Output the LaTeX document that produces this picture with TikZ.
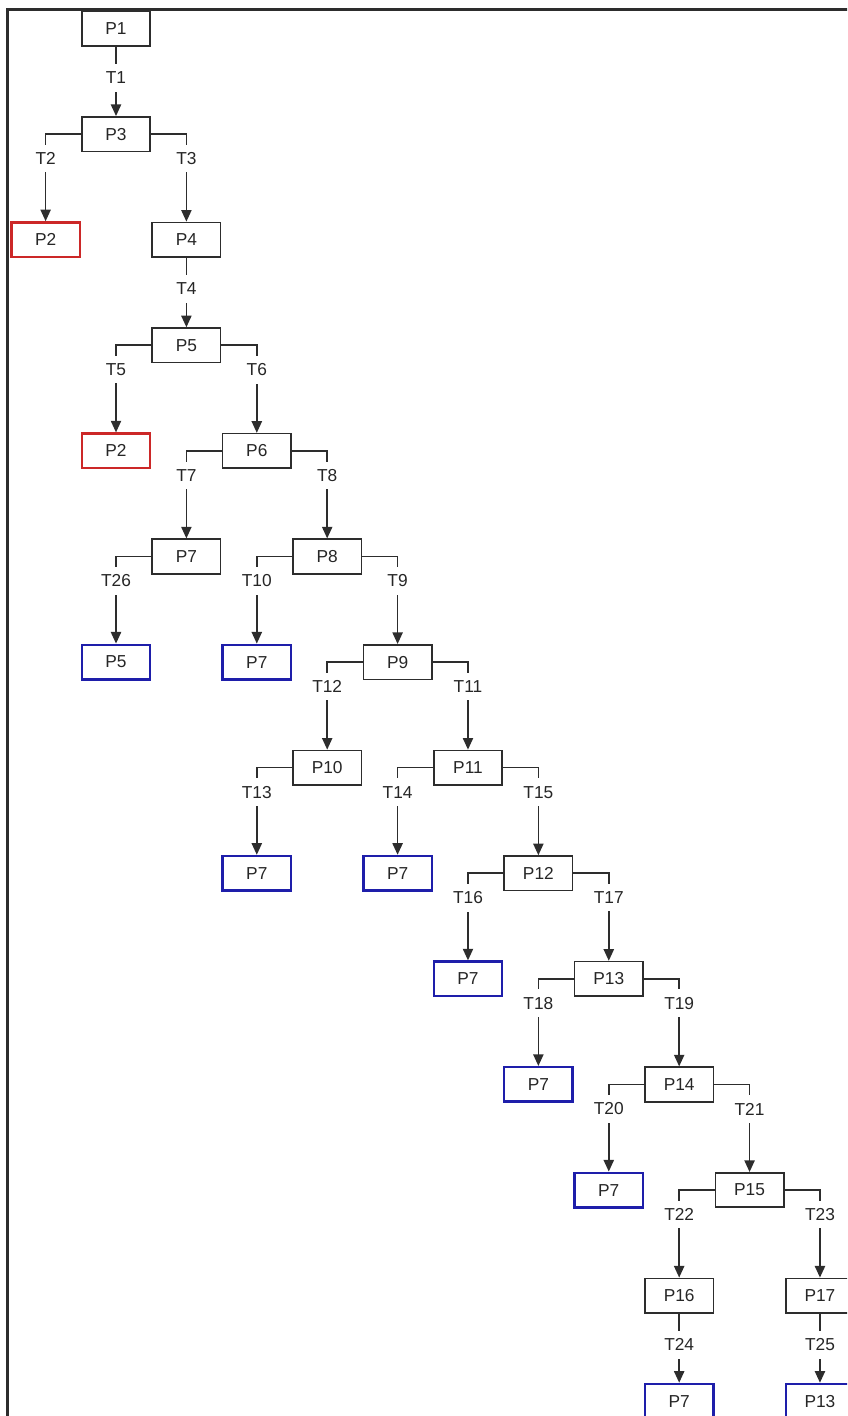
\documentclass[tikz,border=0pt]{standalone}
\usepackage{fontspec}
\setmainfont{Liberation Sans}
\usetikzlibrary{arrows.meta, positioning}
\definecolor{linegray}{RGB}{45,45,45}
\definecolor{loopred}{RGB}{204,40,40}
\definecolor{leafblue}{RGB}{30,30,170}

\begin{document}
\begin{tikzpicture}[
    every node/.style={font=\fontsize{14}{16}\selectfont, text=black!85},
    place/.style={draw=linegray, line width=1.3pt, minimum width=1.94cm, minimum height=0.98cm, inner sep=0pt},
    dead/.style={place, draw=loopred, line width=2pt},
    leaf/.style={place, draw=leafblue, line width=2pt},
    trans/.style={fill=white, inner xsep=0.5mm, inner ysep=2.2mm},
    flow/.style={draw=linegray, line width=1.3pt, -{Triangle[width=2.9mm,length=3.3mm]}}
  ]
        \useasboundingbox (-1.296,0.81) rectangle (22.77,-39.42);
        \clip (-1.296,0.81) rectangle (22.77,-39.42);
        % outer frame (only top and left edges show)
        \draw[linegray, line width=1.9pt] (-1.082,-40) |- (23,0.54);

        % places: name/column/row/label/style
        \foreach \nm/\c/\r/\txt/\sty in {p1/1/0/P1/place, p3/1/1/P3/place,
            p2a/0/2/P2/dead, p4/2/2/P4/place, p5/2/3/P5/place,
            p2b/1/4/P2/dead, p6/3/4/P6/place, p7/2/5/P7/place, p8/4/5/P8/place,
            p5b/1/6/P5/leaf, p7a/3/6/P7/leaf, p9/5/6/P9/place,
            p10/4/7/P10/place, p11/6/7/P11/place,
            p7b/3/8/P7/leaf, p7c/5/8/P7/leaf, p12/7/8/P12/place,
            p7d/6/9/P7/leaf, p13/8/9/P13/place,
            p7e/7/10/P7/leaf, p14/9/10/P14/place,
            p7f/8/11/P7/leaf, p15/10/11/P15/place,
            p16/9/12/P16/place, p17/11/12/P17/place,
            p7g/9/13/P7/leaf, p13b/11/13/P13/leaf}{
          \node[\sty] (\nm) at ({2*\c},{-3*\r}) {\txt};
        }

        % straight transitions
        \foreach \a/\b/\t in {p1/p3/T1, p4/p5/T4, p16/p7g/T24, p17/p13b/T25}{
          \draw[flow] (\a) -- node[trans, pos=0.45] {\t} (\b);
        }

        % branching transitions: from a side of the place, down to the child
        \foreach \a/\sd/\b/\t in {p3/west/p2a/T2, p3/east/p4/T3,
            p5/west/p2b/T5, p5/east/p6/T6, p6/west/p7/T7, p6/east/p8/T8,
            p7/west/p5b/T26, p8/west/p7a/T10, p8/east/p9/T9,
            p9/west/p10/T12, p9/east/p11/T11, p10/west/p7b/T13,
            p11/west/p7c/T14, p11/east/p12/T15, p12/west/p7d/T16, p12/east/p13/T17,
            p13/west/p7e/T18, p13/east/p14/T19, p14/west/p7f/T20, p14/east/p15/T21,
            p15/west/p16/T22, p15/east/p17/T23}{
          \draw[flow] (\a.\sd) -| node[trans, pos=0.64] {\t} (\b.north);
        }
      \end{tikzpicture}
\end{document}
